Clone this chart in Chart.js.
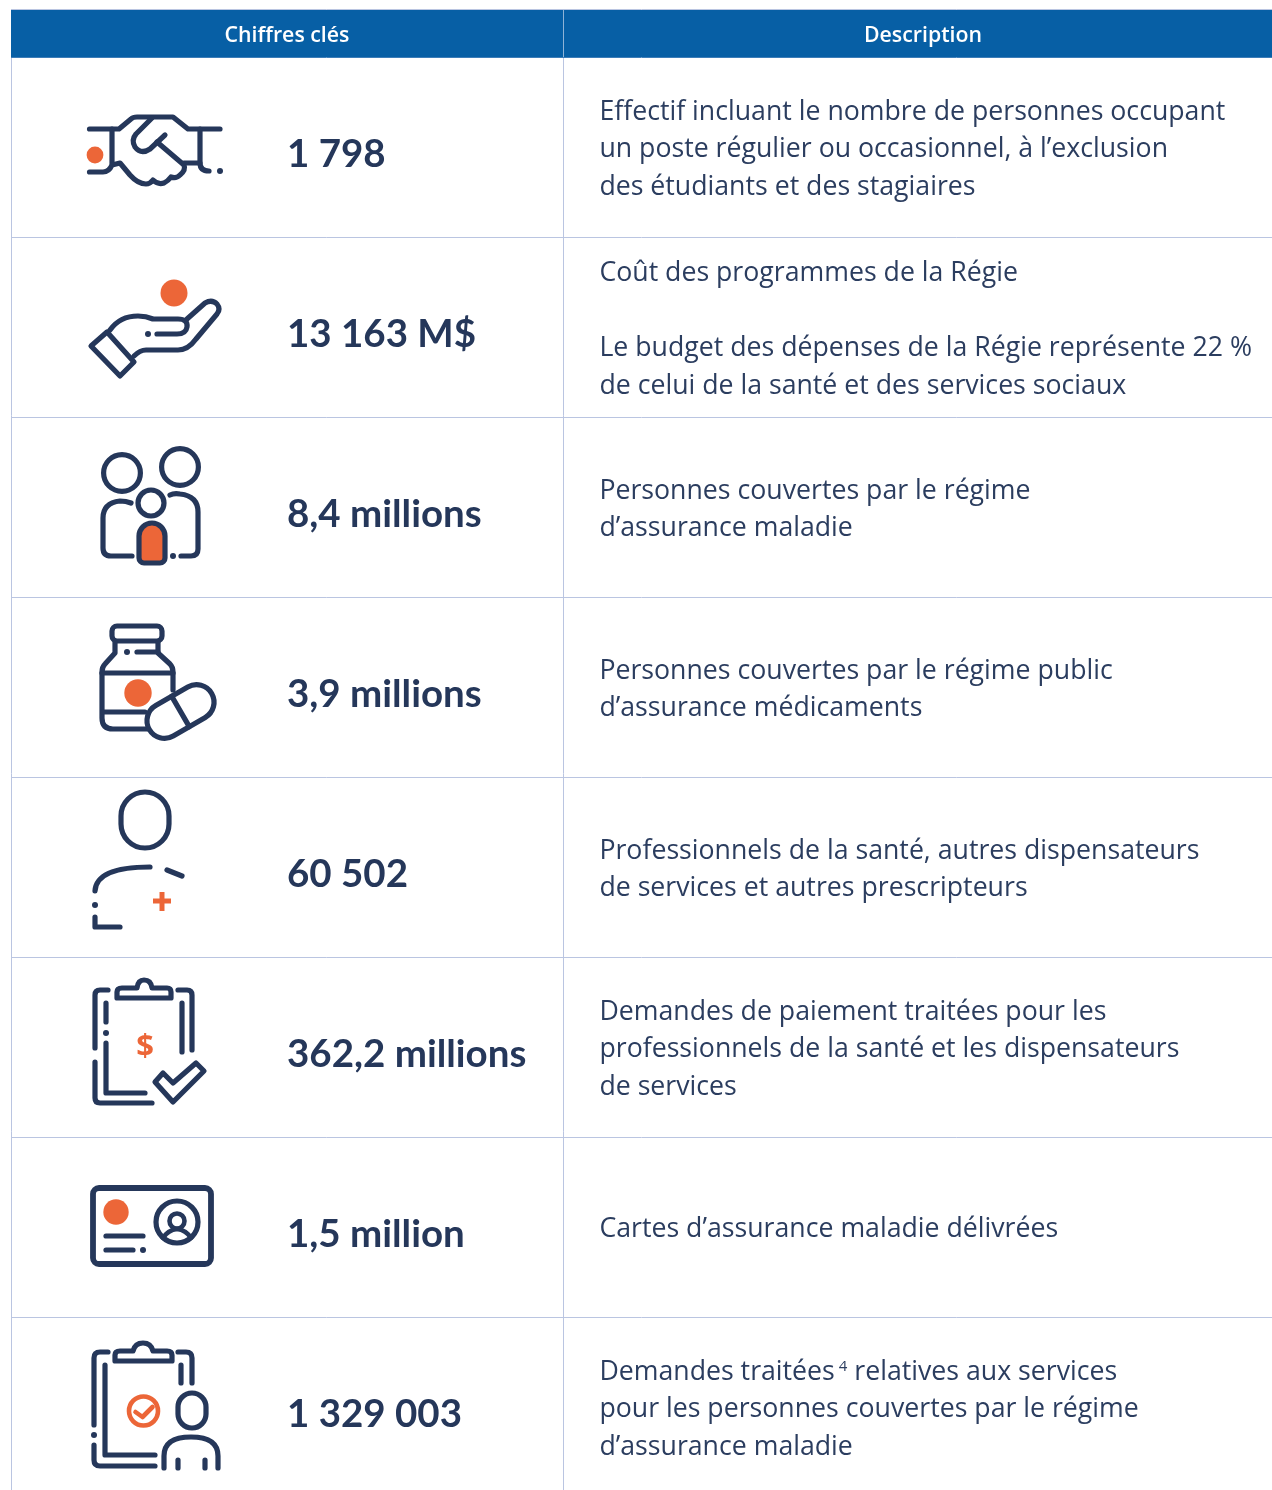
<!DOCTYPE html>
<html lang="fr"><head><meta charset="utf-8"><title>Chiffres clés</title>
<style>html,body{margin:0;padding:0;background:#fff}canvas{display:block}</style>
<script src="https://cdn.jsdelivr.net/npm/chart.js@4/dist/chart.umd.min.js"></script>
</head><body><canvas id="c" width="1272" height="1490"></canvas>
<script>
// ---- data
const columnHeaders = ['Chiffres clés', 'Description'];
const keyFigures = ['1 798','13 163 M$','8,4 millions','3,9 millions','60 502','362,2 millions','1,5 million','1 329 003'];
const descriptions = [
 ['Effectif incluant le nombre de personnes occupant','un poste régulier ou occasionnel, à l’exclusion','des étudiants et des stagiaires'],
 ['Coût des programmes de la Régie','','Le budget des dépenses de la Régie représente 22 %','de celui de la santé et des services sociaux'],
 ['Personnes couvertes par le régime','d’assurance maladie'],
 ['Personnes couvertes par le régime public','d’assurance médicaments'],
 ['Professionnels de la santé, autres dispensateurs','de services et autres prescripteurs'],
 ['Demandes de paiement traitées pour les','professionnels de la santé et les dispensateurs','de services'],
 ['Cartes d’assurance maladie délivrées'],
 ['Demandes traitées|4| relatives aux services','pour les personnes couvertes par le régime','d’assurance maladie']
];
const iconNames = ['handshake','hand','family','bottle','person','claim','card','request'];

// ---- style
const NAVY='#25375A', ORANGE='#EC6638', HEAD='#075FA5', RULE='#BAC5E1', HEADRULE='#3D7DB8', TEXT='#2B3D5F';
const DESC_FONT='"Open Sans"', FIG_FONT='Lato';
const ROW=180, LEFT=11, TOP=57, COLSEP=563, W=1272, H=1490, HEADTOP=10;
const ICON_W=150, ICON_X0=80;
const figX=287, descX=599.4, figBase=110, lineH=37.4, descMid=10.4;

// ---- icons, drawn in cell-local pixels
function mk(rowIdx, fn){
  const cv=document.createElement('canvas'); cv.width=ICON_W; cv.height=ROW;
  const c=cv.getContext('2d'); c.translate(-ICON_X0,-(TOP+rowIdx*ROW));
  c.lineCap='round'; c.lineJoin='round'; c.strokeStyle=NAVY; c.fillStyle=NAVY; c.lineWidth=5.2;
  fn(c); return cv;
}
const P=(c,pts,close)=>{c.beginPath();pts.forEach((p,i)=>i?c.lineTo(p[0],p[1]):c.moveTo(p[0],p[1]));if(close)c.closePath();c.stroke();};
const S=(c,str)=>{c.stroke(new Path2D(str));};
const dot=(c,x,y,r,col)=>{c.save();c.fillStyle=col||NAVY;c.beginPath();c.arc(x,y,r,0,7);c.fill();c.restore();};
const ring=(c,x,y,r)=>{c.beginPath();c.arc(x,y,r,0,7);c.stroke();};
const RR=(c,x,y,w,h,r)=>{c.beginPath();c.roundRect(x,y,w,h,r);c.stroke();};
const drawers={
 handshake(c){
  S(c,'M89.5 129H119L131 119Q133 117 137 117H173L188 129H220');
  S(c,'M152 118L136 134Q131 140 135 147Q141 155 150 149L165 135');
  S(c,'M112 129V163M200 129V163Q200 171 209 171');
  dot(c,220,171,3);
  S(c,'M89.5 172H103Q109 172 112 165L120 163L130 175Q138 184 146 184Q150 184 153 180Q158 185 164 183Q168 181 171 177Q176 179 180 175Q186 170 184 165L157 142');
  S(c,'M184 163H200');
  dot(c,95,155,8.4,ORANGE);
 },
 hand(c){
  dot(c,174,293,13.5,ORANGE);
  P(c,[[91,346],[107,332],[134,362],[120,376]],true);
  S(c,'M110 330Q120 316 138 316Q146 316 153 319H178Q188 319 187 327Q186 334 177 334H157');
  dot(c,148,334,3);
  S(c,'M187 319L205 303Q212 299 217 304Q221 309 217 314L196 339Q188 350 178 350H146Q140 350 134 356');
 },
 family(c){
  ring(c,122,473,18.4); ring(c,180,467,18.4); ring(c,151,503,13);
  c.save();c.fillStyle=ORANGE;c.beginPath();c.roundRect(139,523,26,40,[13,13,5,5]);c.fill();c.restore();
  RR(c,139,523,26,40,[13,13,5,5]);
  S(c,'M131 503Q126 501 120 501Q103 503 103 518V548Q103 556 111 556H132');
  S(c,'M170 495Q174 493 180 494Q198 496 198 512V549Q198 556 191 556H181');
  dot(c,173,556,3);
 },
 bottle(c){
  RR(c,112,626,50,15,5);
  S(c,'M115 642V653L105 664Q102 667 102 672V718Q102 729 113 729H147');
  S(c,'M158 642V653L170 664Q173 667 173 672V690');
  dot(c,127,652,3); P(c,[[137,652],[158,652]]);
  P(c,[[102,673],[173,673]]); P(c,[[103,712],[145,712]]);
  dot(c,138,693,13.7,ORANGE);
  c.save();c.translate(180.5,711.5);c.rotate(-30*Math.PI/180);
  c.beginPath();c.roundRect(-36,-17.5,72,35,17.5);c.fillStyle='#fff';c.fill();c.stroke();
  P(c,[[0,-17.5],[0,17.5]]);c.restore();
 },
 person(c){
  RR(c,121,792,48,56,24);
  S(c,'M150 867C118 867 96 873 95 891');
  P(c,[[167,870],[182,876]]);
  dot(c,95,905,3);
  S(c,'M95 917V927H120');
  c.save();c.strokeStyle=ORANGE;c.lineCap='butt';c.lineWidth=5;
  P(c,[[153,901],[171,901]]);P(c,[[162,892],[162,911]]);c.restore();
 },
 claim(c){
  S(c,'M108 990H100Q95 990 95 995V1048');
  S(c,'M95 1062V1098Q95 1103 100 1103H152');
  P(c,[[106,1003],[106,1022]]);dot(c,106,1033,3);
  S(c,'M106 1043V1093H145');
  S(c,'M117 998V992Q117 988 122 988H137Q138 980 144 980Q151 980 152 988H167Q171 988 171 992V998Z');
  S(c,'M178 990H187Q192 990 192 995V1050');
  P(c,[[182,1003],[182,1052]]);
  P(c,[[155,1082],[163,1073],[173,1083],[196,1063],[204,1071],[173,1102]],true);
  c.save();c.fillStyle=ORANGE;c.font='bold 31px "Open Sans"';c.textAlign='center';c.textBaseline='alphabetic';
  c.fillText('$',145,1056);c.restore();
 },
 card(c){
  c.save();c.lineWidth=5.8;RR(c,93,1188,118,76,6);c.restore();
  dot(c,116,1212,12.7,ORANGE);
  P(c,[[106,1236],[143,1236]]);P(c,[[106,1250],[133,1250]]);dot(c,143,1250,3);
  ring(c,177,1222,21); 
  c.save();c.lineWidth=4.6;ring(c,177,1221,7.5);
  S(c,'M163 1238Q168 1230 177 1229Q186 1230 191 1238');c.restore();
 },
 request(c){
  S(c,'M108 1352H100Q94 1352 94 1358V1425');
  dot(c,94,1435,3);
  S(c,'M94 1445V1460Q94 1466 100 1466H155');
  S(c,'M105 1365V1455H155');
  S(c,'M115 1361V1355Q115 1351 120 1351H133Q135 1343 143 1343Q151 1343 153 1351H167Q172 1351 172 1355V1361Z');
  S(c,'M178 1352H186Q192 1352 192 1358V1383');
  P(c,[[181,1365],[181,1383]]);
  RR(c,178,1393,28,35,14);
  S(c,'M164 1468V1456Q164 1437 191 1437Q218 1437 218 1456V1468');
  P(c,[[178,1460],[178,1468]]);P(c,[[205,1460],[205,1468]]);
  c.save();c.strokeStyle=ORANGE;c.lineWidth=4.6;ring(c,143.5,1411,14.5);
  P(c,[[135.5,1412],[142.5,1417],[152.5,1407]]);c.restore();
 }
};
const iconImages=iconNames.map((n,i)=>mk(i,drawers[n]));

// ---- table painted from the scales
const tablePlugin={
 id:'table',
 beforeDatasetsDraw(ch){
  const c=ch.ctx,xs=ch.scales.x;
  c.save();
  c.fillStyle=HEAD;c.fillRect(LEFT,HEADTOP,W-LEFT,TOP-HEADTOP);
  c.strokeStyle='#8FB3D6';c.lineWidth=1;
  c.beginPath();c.moveTo(xs.getPixelForValue(COLSEP)+.5,HEADTOP);c.lineTo(xs.getPixelForValue(COLSEP)+.5,TOP);c.stroke();
  c.strokeStyle=RULE;c.beginPath();c.moveTo(LEFT,HEADTOP-.5);c.lineTo(W,HEADTOP-.5);c.stroke();
  c.restore();
 },
 afterDatasetsDraw(ch){
  const c=ch.ctx,xs=ch.scales.x,ys=ch.scales.y;
  c.save();c.textBaseline='alphabetic';
  c.fillStyle='#fff';c.textAlign='center';c.font='600 21.3px '+DESC_FONT;
  c.fillText(columnHeaders[0],xs.getPixelForValue((LEFT+COLSEP)/2),42);
  c.fillText(columnHeaders[1],xs.getPixelForValue(923),42);
  c.textAlign='left';
  keyFigures.forEach((t,i)=>{
   c.fillStyle=NAVY;c.font='700 38.5px '+FIG_FONT;
   c.fillText(t,xs.getPixelForValue(figX),ys.getPixelForValue(i)+figBase);
  });
  descriptions.forEach((lines,i)=>{
   const n=lines.length, mid=ys.getPixelForValue(i+.5)+descMid;
   lines.forEach((ln,k)=>{
    const y=mid+(k-(n-1)/2)*lineH;
    c.fillStyle=TEXT;c.font='400 26.7px '+DESC_FONT;
    const x0=xs.getPixelForValue(descX);
    const parts=ln.split('|');
    if(parts.length===1){c.fillText(ln,x0,y);return;}
    let x=x0;c.fillText(parts[0],x,y);x+=c.measureText(parts[0]).width+4;
    c.font='400 15px '+DESC_FONT;c.fillText(parts[1],x,y-9);x+=c.measureText(parts[1]).width;
    c.font='400 26.7px '+DESC_FONT;c.fillText(parts[2],x,y);
   });
  });
  c.restore();
 }
};

new Chart(document.getElementById('c'),{
 type:'scatter',
 data:{datasets:[{
  label:'Icônes',
  data:iconNames.map((n,i)=>({x:ICON_X0+ICON_W/2,y:i+.5})),
  pointStyle:iconImages,
  clip:false
 }]},
 plugins:[tablePlugin],
 options:{
  responsive:false,animation:false,
  layout:{autoPadding:false,padding:{left:LEFT,top:TOP,right:0,bottom:0}},
  plugins:{legend:{display:false},tooltip:{enabled:false},title:{display:false}},
  scales:{
   x:{type:'linear',min:LEFT,max:W,
      afterBuildTicks(a){a.ticks=[{value:LEFT},{value:COLSEP}];},
      ticks:{display:false},border:{display:false},
      grid:{color:RULE,lineWidth:1,drawTicks:false}},
   y:{type:'linear',reverse:true,min:0,max:(H-TOP)/ROW,
      afterBuildTicks(a){a.ticks=iconNames.map((n,i)=>({value:i+1e-7}));},
      ticks:{display:false},border:{display:false},
      grid:{color:(ctx)=>ctx.index===0?HEADRULE:RULE,lineWidth:1,drawTicks:false}}
  }
 }
});
</script></body></html>
